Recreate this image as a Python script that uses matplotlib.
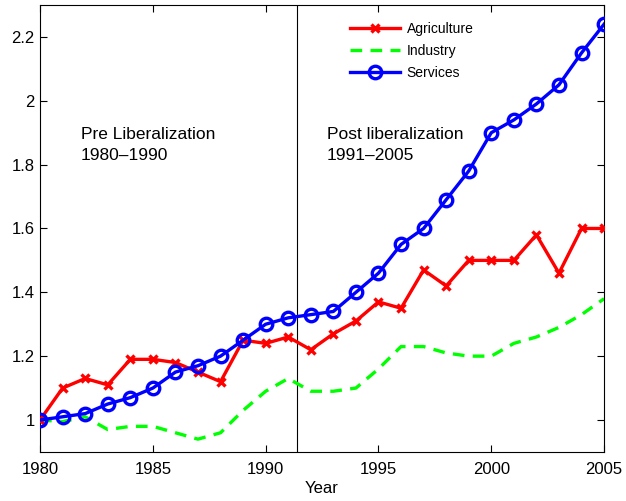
import matplotlib
matplotlib.use("Agg")
import matplotlib.pyplot as plt

plt.rcParams['font.family'] = ['Liberation Sans', 'DejaVu Sans']

years = list(range(1980, 2006))
agriculture = [1.00, 1.10, 1.13, 1.11, 1.19, 1.19, 1.18, 1.15, 1.12, 1.25,
               1.24, 1.26, 1.22, 1.27, 1.31, 1.37, 1.35, 1.47, 1.42, 1.50,
               1.50, 1.50, 1.58, 1.46, 1.60, 1.60]
industry = [1.00, 0.995, 1.01, 0.97, 0.98, 0.98, 0.96, 0.94, 0.96, 1.03,
            1.09, 1.13, 1.09, 1.09, 1.10, 1.16, 1.23, 1.23, 1.21, 1.20,
            1.20, 1.24, 1.26, 1.29, 1.33, 1.38]
services = [1.00, 1.01, 1.02, 1.05, 1.07, 1.10, 1.15, 1.17, 1.20, 1.25,
            1.30, 1.32, 1.33, 1.34, 1.40, 1.46, 1.55, 1.60, 1.69, 1.78,
            1.90, 1.94, 1.99, 2.05, 2.15, 2.24]
xticks = [1980, 1985, 1990, 1995, 2000, 2005]
yticks = [1.0, 1.2, 1.4, 1.6, 1.8, 2.0, 2.2]
ytick_labels = ["1", "1.2", "1.4", "1.6", "1.8", "2", "2.2"]
break_year = 1991.4

fig = plt.figure(figsize=(6.26, 5.01), dpi=100)
ax = fig.add_axes([0.064, 0.098, 0.901, 0.892])

ax.plot(years, agriculture, color='#ff0000', lw=2.4, marker='x',
        markersize=6, mew=2.4, label='Agriculture', zorder=3)
ax.plot(years, industry, color='#00ff00', lw=2.4, ls=(0, (3.5, 2.5)),
        label='Industry', zorder=2)
ax.plot(years, services, color='#0000ff', lw=2.4, marker='o',
        markersize=9, mew=2.4, fillstyle='none', label='Services', zorder=4)

ax.axvline(break_year, color='black', lw=0.8, zorder=1)

ax.text(1981.8, 1.895, "Pre Liberalization", fontsize=12.5, va='center')
ax.text(1981.8, 1.83, "1980\u20131990", fontsize=12.5, va='center')
ax.text(1992.7, 1.895, "Post liberalization", fontsize=12.5, va='center')
ax.text(1992.7, 1.83, "1991\u20132005", fontsize=12.5, va='center')

ax.set_xlim(1980, 2005)
ax.set_ylim(0.9, 2.3)
ax.set_xticks(xticks)
ax.set_xticklabels([str(x) for x in xticks])
ax.set_yticks(yticks)
ax.set_yticklabels(ytick_labels)
ax.tick_params(direction='in', top=True, right=True, labelsize=12, length=5)
ax.tick_params(axis='x', pad=7)
ax.tick_params(axis='y', pad=4)
ax.set_xlabel("Year", fontsize=12, labelpad=3)

leg = ax.legend(loc='upper left', bbox_to_anchor=(0.528, 0.99), frameon=False,
                fontsize=10, handlelength=3.6, labelspacing=0.58,
                handletextpad=0.45)

fig.savefig("out.png", dpi=100)
